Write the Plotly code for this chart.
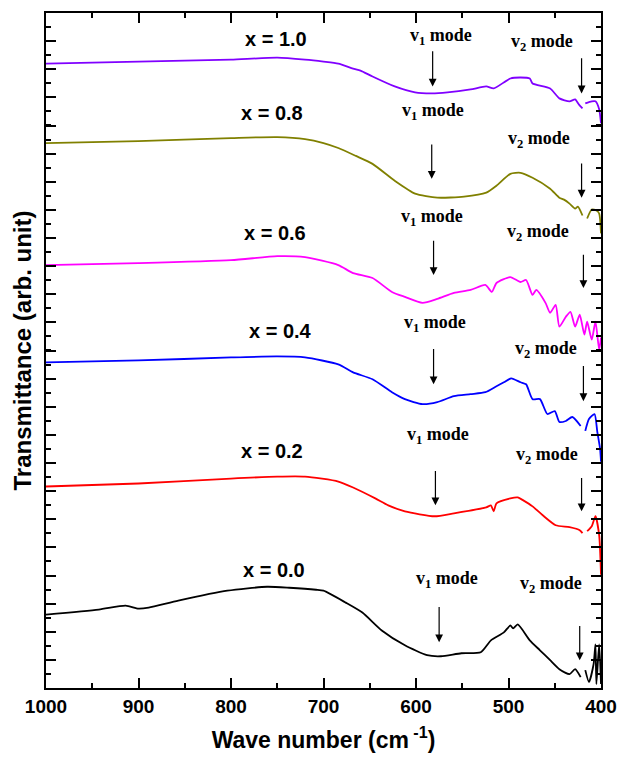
import plotly.graph_objects as go

# ---- data (wave number in cm^-1, transmittance in arb. units) ----
wn_10 = [1000, 950, 900, 850, 800, 750, 720, 700, 684, 668, 660, 647, 623, 601, 583, 566, 541, 524, 516,
         498, 487, 477, 474, 455, 445, 434, 428, 424, 420, 419, 417, 410, 406, 402, 400]
t_10 = [629, 630, 631, 632, 633, 635, 633, 631, 629, 624, 622, 616, 606, 600, 599, 600, 603, 606, 604,
        614, 615, 614, 609, 604, 594, 591, 593, 588, 584, None, 589, 591, 591, 583, 569]

wn_08 = [1000, 900, 800, 750, 720, 700, 684, 665, 647, 623, 601, 577, 548, 524, 513, 498, 487, 474, 455,
         445, 440, 434, 428, 425, 420, 418, 415, 410, 405, 402, 400]
t_08 = [549, 551, 554, 555, 553, 549, 544, 536, 528, 511, 498, 494, 495, 499, 506, 518, 519, 514, 503,
        494, 492, 488, 483, 485, 476, None, 473, 482, 481, 478, 458]

wn_06 = [1000, 900, 800, 750, 720, 684, 668, 647, 626, 612, 593, 577, 559, 541, 525, 518, 513, 498, 487,
         481, 474, 470, 460, 455, 449, 445, 438, 433, 428, 423, 418, 415, 410, 406, 402, 400]
t_06 = [426, 428, 431, 435, 434, 426, 418, 413, 399, 394, 388, 392, 398, 401, 406, 399, 408, 414, 409,
        411, 396, 401, 388, 378, 386, 364, 374, 379, 364, 376, 356, 369, 351, 369, 341, 353]

wn_04 = [1000, 900, 800, 750, 720, 684, 668, 647, 626, 612, 593, 577, 559, 541, 525, 513, 505, 497, 487,
         481, 474, 466, 458, 450, 445, 438, 431, 422, 420, 417, 413, 407, 404, 401, 400]
t_04 = [328, 330, 333, 334, 333, 326, 318, 311, 298, 291, 286, 288, 294, 296, 298, 304, 308, 312, 308,
        306, 291, 291, 276, 279, 268, 269, 273, 264, None, 259, 271, 276, 258, 241, 228]

wn_02 = [1000, 900, 800, 750, 720, 684, 668, 644, 630, 612, 580, 559, 524, 519, 516, 513, 498, 490, 484,
         474, 463, 449, 434, 423, 420, 418, 415, 410, 406, 402, 400]
t_02 = [203, 206, 211, 213, 213, 208, 202, 191, 184, 178, 173, 176, 182, 184, 178, 186, 191, 192, 189,
        183, 174, 164, 162, 159, 156, None, 158, 163, 173, 154, 114]

wn_00 = [1000, 943, 914, 900, 889, 857, 804, 761, 737, 708, 700, 676, 658, 637, 612, 588, 573, 551, 530,
         519, 505, 498, 495, 490, 477, 466, 455, 445, 434, 428, 422, 419, 417, 413, 408, 406, 405, 402, 400]
t_00 = [74, 79, 83, 80, 81, 88, 98, 102, 101, 99, 98, 86, 76, 58, 43, 33, 32, 35, 36,
        48, 56, 63, 60, 64, 48, 38, 28, 19, 14, 19, 11, None, 18, 6, 24, 44, 4, 44, 4]

series = [
    ("x = 1.0", wn_10, t_10, "#8000FF"),
    ("x = 0.8", wn_08, t_08, "#808000"),
    ("x = 0.6", wn_06, t_06, "#FF00FF"),
    ("x = 0.4", wn_04, t_04, "#0000FF"),
    ("x = 0.2", wn_02, t_02, "#FF0000"),
    ("x = 0.0", wn_00, t_00, "#000000"),
]

# label positions (wave number, transmittance)
comp_x = [751, 756, 752, 746, 756, 754]
comp_y = [654, 579, 458, 360, 239, 119]
v1_x = [573, 582, 583, 579, 576, 567]
v1_y = [656, 581, 474, 367, 254, 109]
v2_x = [464, 467, 468, 460, 458, 454]
v2_y = [650, 553, 459, 341, 234, 104]
# arrows: wave number, tail, head
a1_x = [582, 583, 581, 581, 579, 575]
a1_tail = [643, 549, 452, 343, 220, 83]
a1_head = [606, 513, 416, 306, 184, 46]
a2_x = [421, 421, 419, 419, 421, 423]
a2_tail = [636, 530, 438, 326, 213, 64]
a2_head = [599, 494, 403, 289, 178, 28]

fig = go.Figure()
for name, x, y, c in series:
    fig.add_trace(go.Scatter(x=x, y=y, mode="lines", name=name,
                             line=dict(color=c, width=1.8, shape="spline", smoothing=0.6),
                             connectgaps=False, showlegend=False))

ann = []
sans = "Liberation Sans, Arial, sans-serif"
serif = "Liberation Serif, Times New Roman, serif"
for i, (name, _, _, _) in enumerate(series):
    ann.append(dict(x=comp_x[i], y=comp_y[i], xref="x", yref="y", text="<b>%s</b>" % name,
                    showarrow=False, font=dict(family=sans, size=20, color="black")))
    ann.append(dict(x=v1_x[i], y=v1_y[i], xref="x", yref="y", text="<b>v<sub>1</sub> mode</b>",
                    showarrow=False, font=dict(family=serif, size=18, color="black")))
    ann.append(dict(x=v2_x[i], y=v2_y[i], xref="x", yref="y", text="<b>v<sub>2</sub> mode</b>",
                    showarrow=False, font=dict(family=serif, size=18, color="black")))
    for ax_, t_, h_ in ((a1_x[i], a1_tail[i], a1_head[i]), (a2_x[i], a2_tail[i], a2_head[i])):
        ann.append(dict(x=ax_, y=h_, ax=ax_, ay=t_, xref="x", yref="y", axref="x", ayref="y",
                        text="", showarrow=True, arrowhead=2, arrowsize=1.3, arrowwidth=1.2,
                        arrowcolor="black"))

fig.update_layout(
    width=628, height=760,
    margin=dict(l=46, r=19, t=11, b=69),
    paper_bgcolor="white", plot_bgcolor="white",
    annotations=ann,
    xaxis=dict(range=[1000, 400], tickvals=[1000, 900, 800, 700, 600, 500, 400],
               ticks="inside", ticklen=10, tickwidth=2, tickcolor="black",
               minor=dict(dtick=50, ticks="inside", ticklen=5, tickwidth=2, tickcolor="black"),
               showline=True, linewidth=2, linecolor="black", mirror="ticks",
               showgrid=False, zeroline=False,
               tickfont=dict(family=sans, size=19, color="black", weight="bold"),
               title=dict(text="Wave number (cm<sup> -1</sup>)", standoff=16,
                          font=dict(family=sans, size=23, color="black", weight="bold"))),
    yaxis=dict(range=[0, 680], tick0=0, dtick=28.33,
               ticks="inside", ticklen=10, tickwidth=2, tickcolor="black",
               minor=dict(dtick=14.167, ticks="inside", ticklen=5, tickwidth=2, tickcolor="black"),
               showticklabels=False,
               showline=True, linewidth=2, linecolor="black", mirror="ticks",
               showgrid=False, zeroline=False,
               title=dict(text="Transmittance (arb. unit)", standoff=6,
                          font=dict(family=sans, size=24, color="black", weight="bold"))),
)

fig.write_html("out.html")
